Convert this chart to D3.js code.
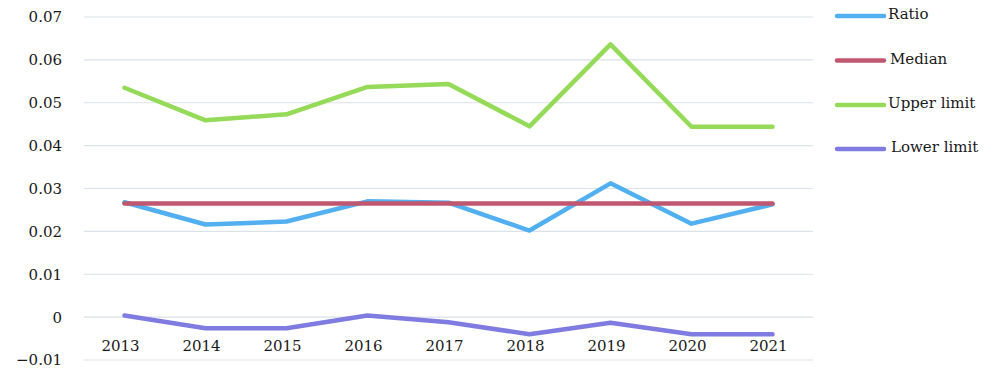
<!DOCTYPE html>
<html><head><meta charset="utf-8">
<script src="https://cdn.jsdelivr.net/npm/d3@7"></script>
<style>body{margin:0;background:#fff}svg{display:block}text{font-family:"DejaVu Serif",serif;font-size:15px;fill:#1a1a1a}</style>
</head><body><svg id="c" width="1000" height="380"></svg>
<script>
const years = ["2013","2014","2015","2016","2017","2018","2019","2020","2021"];
const ratio = [0.0268,0.0216,0.0223,0.0270,0.0267,0.0202,0.0312,0.0218,0.0263];
const median = [0.0265,0.0265,0.0265,0.0265,0.0265,0.0265,0.0265,0.0265,0.0265];
const upper = [0.0535,0.0459,0.0473,0.0537,0.0544,0.0445,0.0636,0.0444,0.0444];
const lower = [0.0004,-0.0026,-0.0026,0.0004,-0.0012,-0.0040,-0.0013,-0.0040,-0.0040];
const yTicks = [-0.01,0,0.01,0.02,0.03,0.04,0.05,0.06,0.07];
const seriesNames = ["Ratio","Median","Upper limit","Lower limit"];
const seriesColors = ["#52aff0","#c0566f","#95da58","#7f7be0"];
const seriesData = [ratio, median, upper, lower];

const svg = d3.select("#c");
const x = d3.scalePoint().domain(years).range([84, 813]).padding(0.5);
const y = d3.scaleLinear().domain([-0.01, 0.07]).range([360, 17]);

// gridlines
svg.append("g").selectAll("line").data(yTicks).join("line")
  .attr("x1", 84).attr("x2", 813)
  .attr("y1", d => y(d)).attr("y2", d => y(d))
  .attr("stroke", "#dbe2e8").attr("stroke-width", 1.2);

// y labels
svg.append("g").selectAll("text").data(yTicks).join("text")
  .attr("x", 62).attr("y", d => y(d)).attr("dy", "0.36em")
  .attr("text-anchor", "end")
  .text(d => d === 0 ? "0" : d3.format(".2f")(d));

// x labels
svg.append("g").selectAll("text").data(years).join("text")
  .attr("x", d => x(d) - 4).attr("y", 351)
  .attr("text-anchor", "middle").text(d => d);

// lines
const line = d3.line().x((d, i) => x(years[i])).y(d => y(d));
seriesData.forEach((s, k) => {
  svg.append("path").datum(s).attr("d", line)
    .attr("fill", "none").attr("stroke", seriesColors[k])
    .attr("stroke-width", 4.5).attr("stroke-linejoin", "round").attr("stroke-linecap", "round");
});

// legend
const legY = [16, 60.5, 105, 149];
const legTextX = [888, 890, 888, 891];
const leg = svg.append("g");
seriesNames.forEach((n, k) => {
  leg.append("line").attr("x1", 837).attr("x2", 884)
    .attr("y1", legY[k]).attr("y2", legY[k])
    .attr("stroke", seriesColors[k]).attr("stroke-width", 4.5).attr("stroke-linecap", "round");
  leg.append("text").attr("x", legTextX[k]).attr("y", legY[k] - 2).attr("dy", "0.36em").text(n);
});
</script></body></html>
